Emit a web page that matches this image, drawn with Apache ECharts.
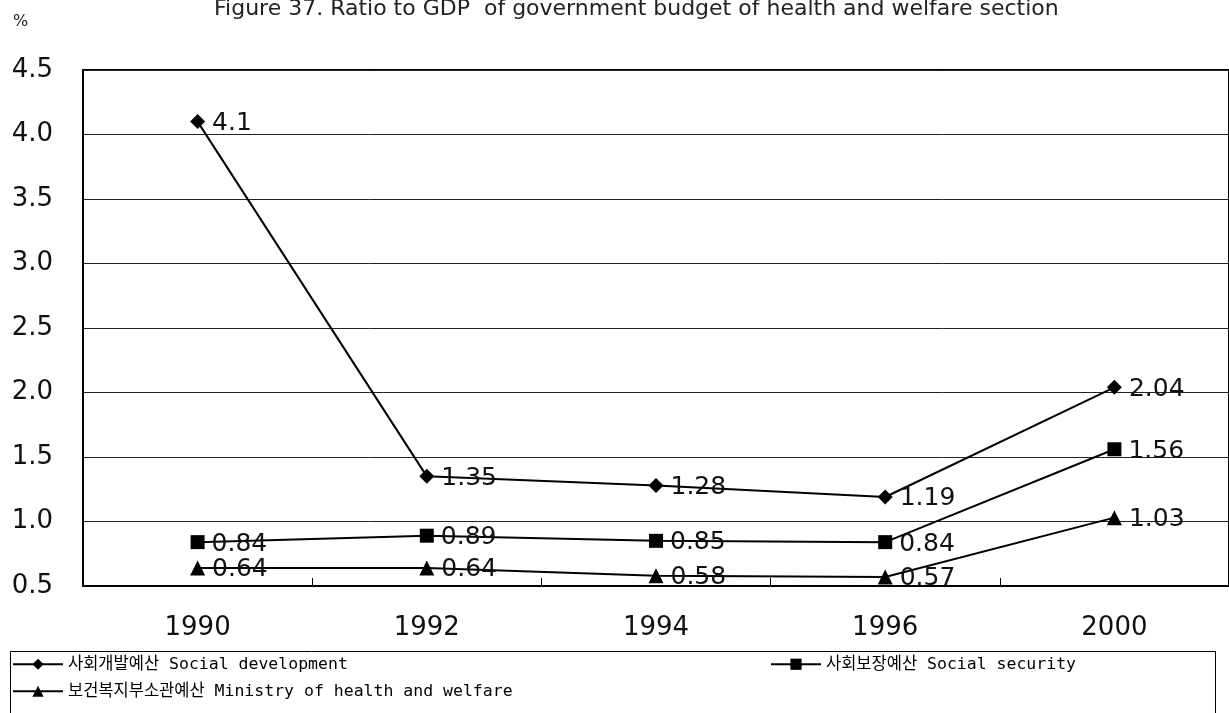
<!DOCTYPE html>
<html>
<head>
<meta charset="utf-8">
<script src="https://cdn.jsdelivr.net/npm/echarts@6/dist/echarts.min.js"></script>
<style>
html,body{margin:0;padding:0;background:#fff;}
#chart{width:1229px;height:713px;}
</style>
</head>
<body>
<div id="chart"></div>
<script>
const titleText = 'Figure 37. Ratio to GDP  of government budget of health and welfare section';
const unitText = '%';
const years = ['1990', '1992', '1994', '1996', '2000'];
const seriesNames = ['사회개발예산 Social development', '사회보장예산 Social security', '보건복지부소관예산 Ministry of health and welfare'];
const socialDevelopment = [4.1, 1.35, 1.28, 1.19, 2.04];
const socialSecurity = [0.84, 0.89, 0.85, 0.84, 1.56];
const ministryHealthWelfare = [0.64, 0.64, 0.58, 0.57, 1.03];
const yMin = 0.5, yMax = 4.5, yStep = 0.5;

const chart = echarts.init(document.getElementById('chart'), null, {renderer: 'canvas'});
const baseFont = 'DejaVu Sans, Liberation Sans, Arial, sans-serif';
const legendFont = 'DejaVu Sans Mono, Noto Sans CJK KR, monospace';

function lineSeries(name, data, symbol, size) {
  return {
    name: name,
    type: 'line',
    data: data,
    symbol: symbol,
    symbolSize: size,
    lineStyle: {color: '#000', width: 2},
    itemStyle: {color: '#000'},
    label: {
      show: true,
      position: 'right',
      distance: 7,
      offset: [0, 2],
      color: '#111',
      fontFamily: baseFont,
      fontSize: 25,
      formatter: p => String(p.value)
    },
    emphasis: {disabled: true},
    animation: false
  };
}

const legendCommon = {
  itemWidth: 50,
  itemHeight: 14,
  padding: 0,
  textStyle: {fontFamily: legendFont, fontSize: 16.5, color: '#000'},
  itemGap: 4,
  selectedMode: false
};

chart.setOption({
  animation: false,
  backgroundColor: '#fff',
  title: [
    {text: titleText, left: 209, top: -7,
     textStyle: {fontFamily: baseFont, fontSize: 22, fontWeight: 'normal', color: '#222'}},
    {text: unitText, left: 8, top: 9,
     textStyle: {fontFamily: baseFont, fontSize: 16, fontWeight: 'normal', color: '#222'}}
  ],
  grid: {left: 83, top: 70, width: 1152, height: 516, show: true, borderColor: '#000', borderWidth: 2, containLabel: false},
  xAxis: {
    type: 'category',
    data: years,
    boundaryGap: true,
    axisLine: {lineStyle: {color: '#000', width: 2}},
    axisTick: {show: true, inside: true, length: 8, lineStyle: {color: '#000', width: 1}},
    axisLabel: {fontFamily: baseFont, fontSize: 26, color: '#111', margin: 29},
    splitLine: {show: false}
  },
  yAxis: {
    type: 'value',
    min: yMin, max: yMax, interval: yStep,
    axisLine: {show: true, lineStyle: {color: '#000', width: 2}},
    axisTick: {show: false},
    axisLabel: {fontFamily: baseFont, fontSize: 26, color: '#111', margin: 30, formatter: v => v.toFixed(1)},
    splitLine: {show: true, lineStyle: {color: '#222', width: 1}}
  },
  legend: [
    Object.assign({data: [seriesNames[0]], left: 12, top: 656}, legendCommon),
    Object.assign({data: [seriesNames[1]], left: 770, top: 656}, legendCommon),
    Object.assign({data: [seriesNames[2]], left: 12, top: 683}, legendCommon)
  ],
  graphic: [
    {type: 'rect', shape: {x: 10.5, y: 651.5, width: 1205, height: 70}, style: {fill: 'none', stroke: '#000', lineWidth: 1}, silent: true}
  ],
  series: [
    lineSeries(seriesNames[0], socialDevelopment, 'diamond', 15),
    lineSeries(seriesNames[1], socialSecurity, 'rect', 14),
    lineSeries(seriesNames[2], ministryHealthWelfare, 'triangle', 15)
  ]
});
</script>
</body>
</html>
